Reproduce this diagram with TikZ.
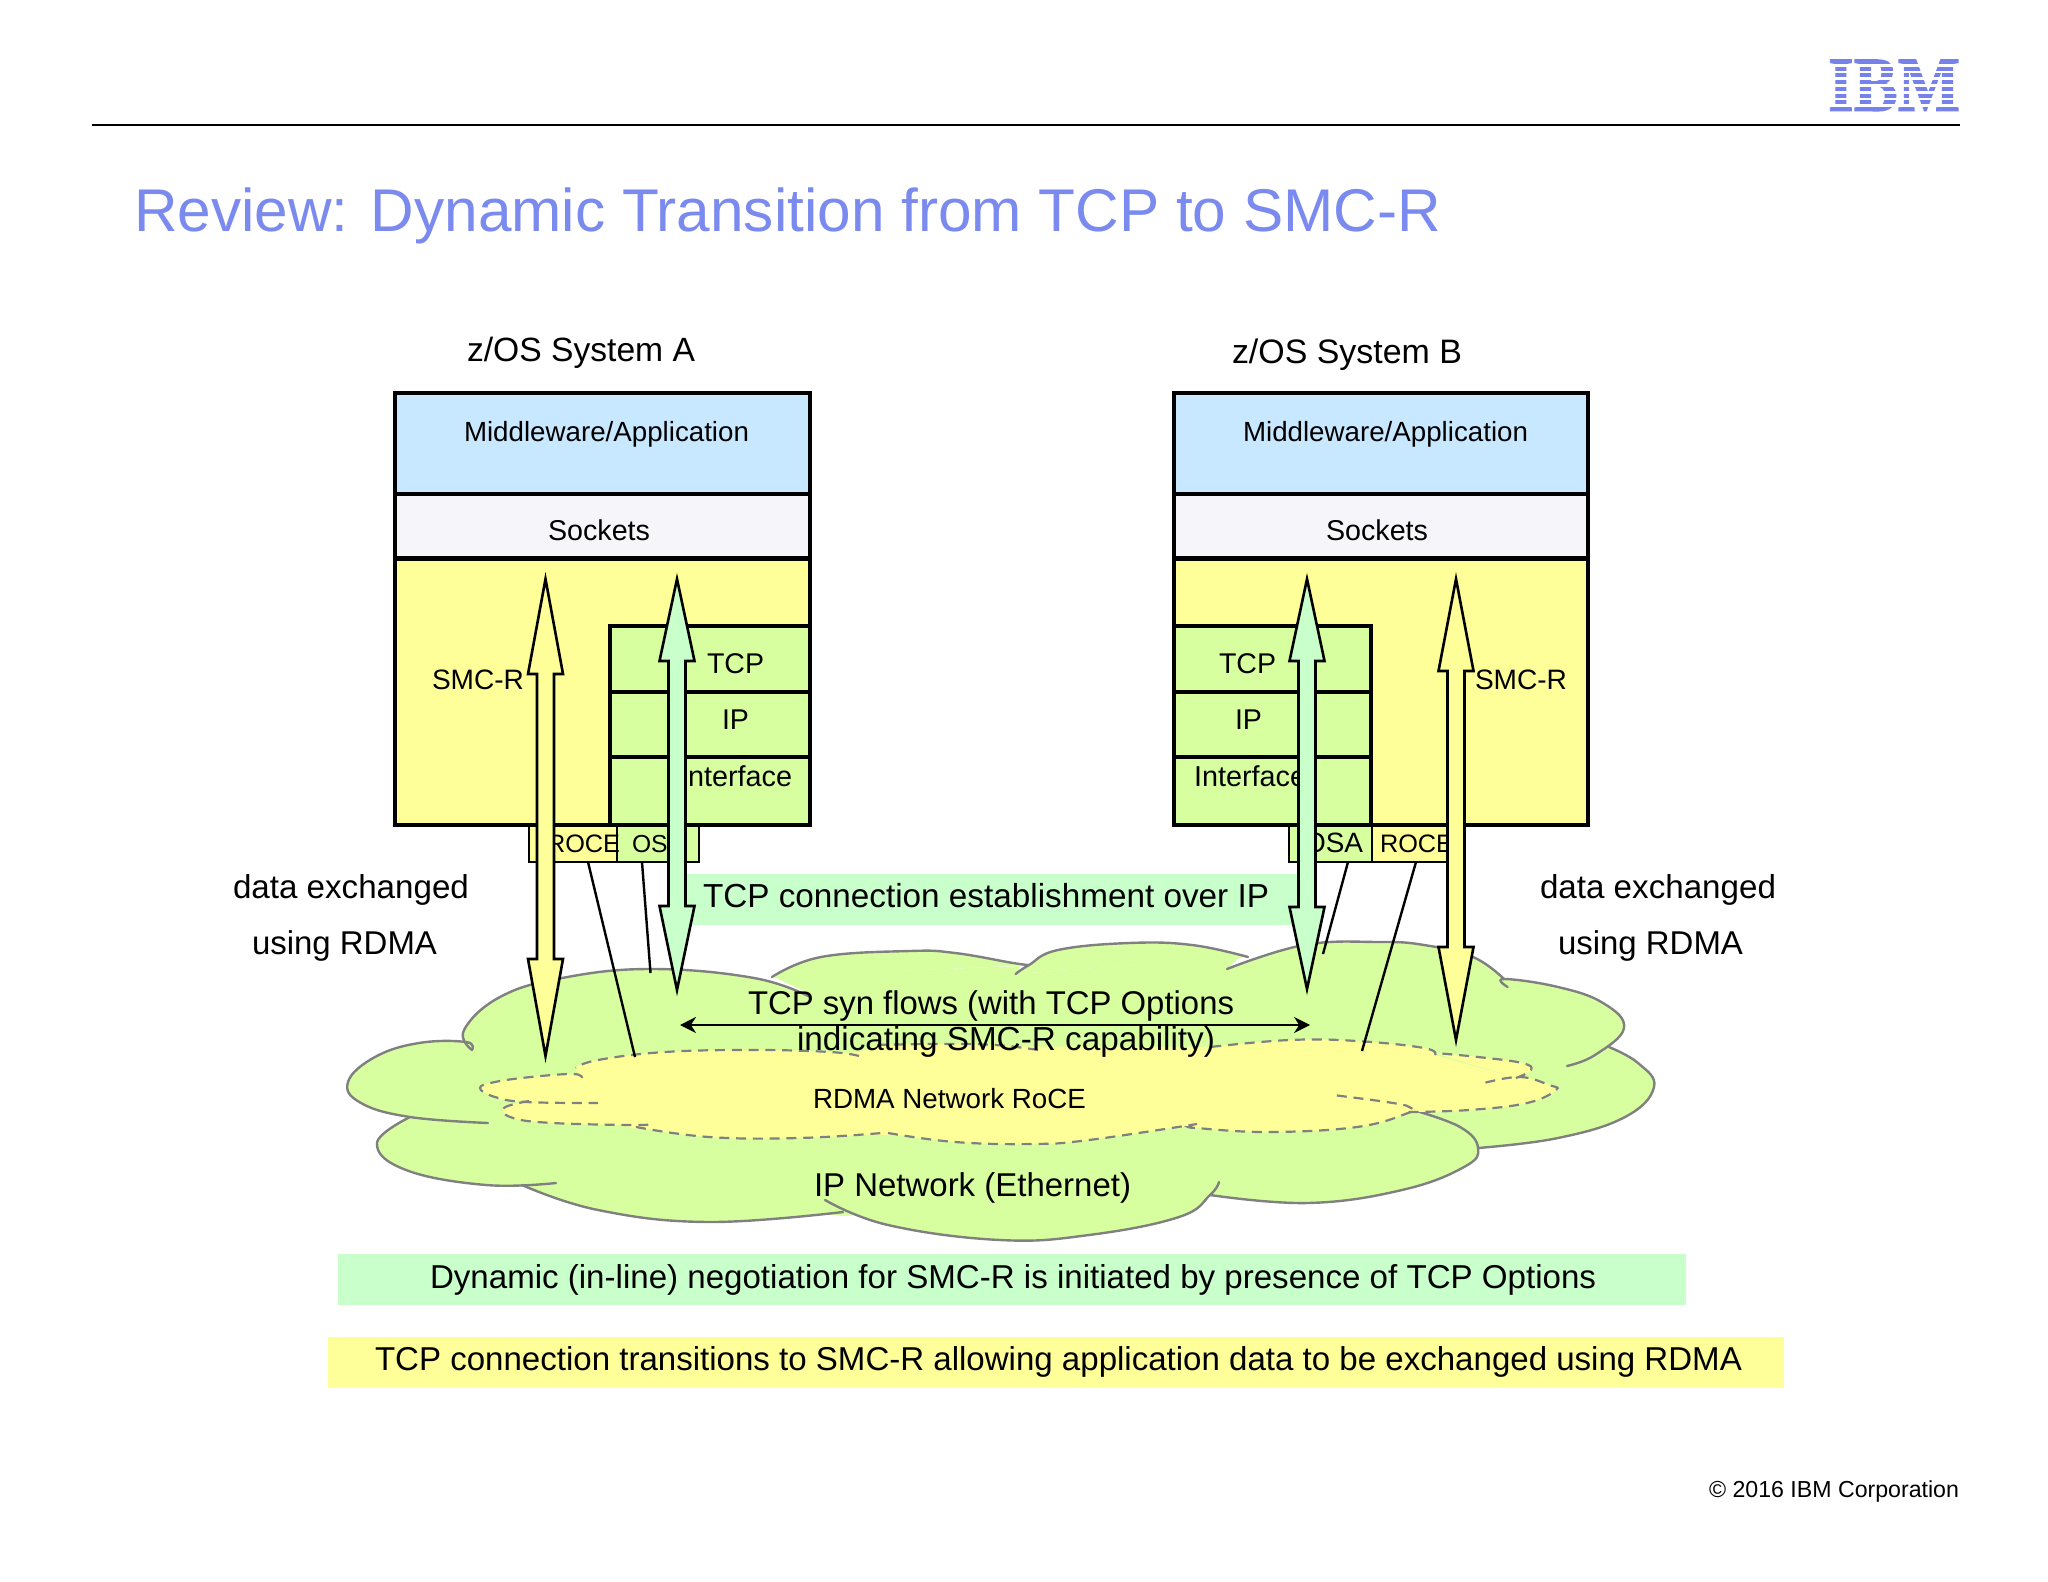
\documentclass[tikz,border=0pt]{standalone}
\usepackage{graphicx}
\usepackage{fontspec}
\setmainfont{Liberation Sans}
\newfontfamily\logofont{Liberation Serif}[BoldFeatures={FakeBold=1.5}]
\usetikzlibrary{arrows.meta,fit}
\definecolor{ctitle}{RGB}{122,138,238}
\definecolor{clogo}{RGB}{118,130,234}
\definecolor{cyel}{RGB}{255,255,153}
\definecolor{cgrn}{RGB}{215,255,160}
\definecolor{cmint}{RGB}{200,255,203}
\definecolor{cblue}{RGB}{200,232,255}
\definecolor{csock}{RGB}{246,246,250}
\definecolor{cgray}{RGB}{128,128,128}
\newdimen\pxu \pxu=.5pt
\tikzset{
  txt/.style={anchor=base west,inner sep=0pt,outer sep=0pt,text=black,font=\fontsize{14pt}{16pt}\selectfont},
  bigbox/.style={draw=black,line width=2.3pt,inner sep=0pt,outer sep=0pt},
  nicbox/.style={draw=black,line width=1.1pt,inner sep=0pt,outer sep=0pt},
  band/.style={inner sep=0pt,outer sep=0pt},
  thinline/.style={draw=black,line width=1.2pt},
  blockar/.style={draw=black,line width=1.3pt,miter limit=10},
  cloudline/.style={draw=cgray,line width=1.2pt,line cap=round},
  dashline/.style={draw=cgray,line width=1.1pt,dash pattern=on 5pt off 3.4pt},
  synarrow/.style={draw=black,line width=1pt,{Stealth[length=8pt,width=8pt]}-{Stealth[length=8pt,width=8pt]}},
}
\newcommand\tx[5]{\node[txt] (#1) at (#2,#3) {\resizebox{#4\pxu}{!}{#5}};}
\newcommand\bx[6]{\path (#2,#3) coordinate (#1-a) (#4,#5) coordinate (#1-b); \node[fit=(#1-a)(#1-b),#6] (#1) {};}
\newcommand\blockarrow[7]{\draw[blockar,fill=#7] (#2,#3) -- (#2+17.5,#4) -- (#2+8.5,#4) -- (#2+8.5,#5) -- (#2+17.5,#5) -- (#2,#6) -- (#2-17.5,#5) -- (#2-8.5,#5) -- (#2-8.5,#4) -- (#2-17.5,#4) -- cycle;}
\newcommand\lobefill[1]{\fill[cgrn] plot[smooth,tension=.7] coordinates {#1};}
\newcommand\lobedraw[1]{\draw[cloudline] plot[smooth,tension=.7] coordinates {#1};}
\newcommand\dashfill[1]{\fill[cyel] plot[smooth,tension=.7] coordinates {#1};}
\newcommand\dashdraw[1]{\draw[dashline] plot[smooth,tension=.7] coordinates {#1};}
\newcommand\greenlobes{%
\lobe{(472,1050)(466,1042)(419,1043)(375,1057)(348,1082)(361,1103)(410,1117)(488,1123)}
\lobe{(410,1117)(377,1143)(406,1170)(486,1185)(556,1183)}
\lobe{(522,1185)(598,1210)(709,1222)(843,1212)}
\lobe{(825,1200)(888,1225)(1000,1240)(1089,1235)(1179,1217)(1210,1195)(1219,1182)}
\lobe{(1210,1195)(1308,1203)(1402,1190)(1464,1167)(1478,1148)(1460,1127)(1413,1110)}
\lobe{(1478,1148)(1558,1138)(1625,1117)(1654,1087)(1638,1063)(1609,1047)}
\lobe{(1567,1066)(1595,1055)(1624,1028)(1603,1003)(1558,987)(1504,979)(1507.6,987)}
\lobe{(1504,979)(1473,957)(1424,945)(1379,942)(1304,945)(1227,969)}
\lobe{(1248,957)(1192,945)(1129.5,943)(1058,950)(1029,965)(1015.6,974)}
\lobe{(1029,965)(1013,963)(955,953)(910,951)(821,957)(772,977)}
\lobe{(810,997)(754,978)(651,969)(562,978)(500,997)(464,1030)(472,1050)}}
\newcommand\yellowlobes{%
\lobe{(582,1078)(573,1074)(531,1077)(495,1082)(480,1088)(495,1097)(526,1102)(598,1103)}
\lobe{(529,1101)(504,1108)(513,1118)(553,1123)(633.5,1125)(651,1124)}
\lobe{(636,1127)(709,1137)(799,1138)(882,1133)}
\lobe{(888,1133)(955,1142)(1033,1144)(1089,1140)(1197,1124)}
\lobe{(1192,1127)(1196,1128)(1268,1132)(1357,1127)(1408,1113)(1411,1108)(1393,1103)(1333,1095)}
\lobe{(1408.5,1112)(1469,1110)(1527,1103)(1556,1090)(1549,1085)(1520,1077)(1484,1083)}
\lobe{(1516,1078)(1531,1070)(1522,1063)(1478,1057)(1435,1053)}
\lobe{(1435,1055)(1424,1048)(1357,1041)(1290,1040)(1210,1047)}
\lobe{(859,1056)(830,1052)(754,1050)(665,1052)(598,1060)(575.5,1068)}
\lobe{(1038,1050)(995,1045)(935,1044)(875,1045)}}
\begin{document}
\begin{tikzpicture}[x=.5pt,y=-.5pt]
\useasboundingbox (0,0) rectangle (2048,1582);
\fill[white] (0,0) rectangle (2048,1582);
% header
\coordinate (ruleL) at (92,125); \coordinate (ruleR) at (1960,125);
\draw[black,line width=1.2pt] (ruleL) -- (ruleR);
\node[anchor=south west,inner sep=0pt,outer sep=0pt,text=clogo] (logo) at (1828,111) {\resizebox{132\pxu}{51\pxu}{\logofont\bfseries IBM}};
\foreach \k in {0,...,6} {\fill[white] (1820,64+\k*6.75) rectangle (1965,66.6+\k*6.75);}
\node[txt,text=ctitle] (title) at (134,231.5) {\resizebox{1307\pxu}{!}{Review: Dynamic Transition from TCP to SMC-R}};
% systems
\tx{sysA}{467}{362}{228}{z/OS System A}
\tx{sysB}{1232}{363.5}{230}{z/OS System B}
% NIC boxes
\bx{nicAy}{529}{824}{617}{862}{nicbox,fill=cyel}
\bx{nicAg}{617}{824}{699}{862}{nicbox,fill=cgrn}
\bx{nicBg}{1289}{824}{1372}{862}{nicbox,fill=cgrn}
\bx{nicBy}{1372}{824}{1458}{862}{nicbox,fill=cyel}
% system A
\bx{outA}{395}{393}{810}{825}{bigbox,fill=cyel}
\bx{mwA}{395}{393}{810}{494}{bigbox,fill=cblue}
\bx{skA}{395}{494}{810}{558.5}{bigbox,fill=csock}
\bx{tcpA}{610}{626}{810}{692}{bigbox,fill=cgrn}
\bx{ipA}{610}{692}{810}{757}{bigbox,fill=cgrn}
\bx{ifA}{610}{757}{810}{825}{bigbox,fill=cgrn}
% system B
\bx{outB}{1174}{393}{1588}{825}{bigbox,fill=cyel}
\bx{mwB}{1174}{393}{1588}{494}{bigbox,fill=cblue}
\bx{skB}{1174}{494}{1588}{558.5}{bigbox,fill=csock}
\bx{tcpB}{1174}{626}{1371}{692}{bigbox,fill=cgrn}
\bx{ipB}{1174}{692}{1371}{757}{bigbox,fill=cgrn}
\bx{ifB}{1174}{757}{1371}{825}{bigbox,fill=cgrn}
% box labels
\tx{mwAt}{464}{442}{285}{Middleware/Application}
\tx{mwBt}{1243}{442}{285}{Middleware/Application}
\tx{skAt}{548}{540.5}{102}{Sockets}
\tx{skBt}{1326}{540.5}{102}{Sockets}
\tx{smcA}{432}{689}{92}{SMC-R}
\tx{smcB}{1475}{689}{92}{SMC-R}
\tx{tcpAt}{707}{673.5}{57}{TCP}
\tx{tcpBt}{1219}{673.5}{57}{TCP}
\tx{ipAt}{722}{729.5}{27}{IP}
\tx{ipBt}{1235}{729.5}{27}{IP}
\tx{ifAt}{680}{786}{112}{Interface}
\tx{ifBt}{1194}{786}{112}{Interface}
\tx{rocA}{547}{852}{73}{ROCE}
\tx{osaA}{632}{852}{52}{OSA}
\tx{osaB}{1304}{852}{59}{OSA}
\tx{rocB}{1380}{852}{73}{ROCE}
% side labels
\tx{deA}{233}{898}{236}{data exchanged}
\tx{urA}{252}{954.5}{185}{using RDMA}
\tx{deB}{1540}{898}{236}{data exchanged}
\tx{urB}{1558}{954.5}{185}{using RDMA}
% mint band
\bx{estB}{687}{874}{1300}{925}{band,fill=cmint}
\tx{estT}{703}{907}{566}{TCP connection establishment over IP}
% cloud
\let\lobe\lobefill
\greenlobes
\fill[cgrn] (470,1046) -- (810,994) -- (772,976) -- (1020,966) -- (1018,974) -- (1240,957) -- (1228,968) -- (1504,977) -- (1609,1047) -- (1478,1148) -- (1210,1195) -- (843,1216) -- (535,1189) -- (410,1117) -- cycle;
\let\lobe\lobedraw
\greenlobes
% inner cloud
\let\lobe\dashfill
\yellowlobes
\fill[cyel] (575,1068) -- (859,1052) -- (875,1046) -- (1210,1047) -- (1435,1055) -- (1516,1078) -- (1484,1083) -- (1408,1112) -- (1192,1127) -- (881,1135) -- (636,1129) -- (529,1101) -- (582,1078) -- cycle;
\let\lobe\dashdraw
\yellowlobes
% thin connectors
\coordinate (lnA1s) at (588,862); \coordinate (lnA1e) at (635,1057);
\coordinate (lnA2s) at (642,862); \coordinate (lnA2e) at (650.5,973);
\coordinate (lnB1s) at (1348,862); \coordinate (lnB1e) at (1323,954);
\coordinate (lnB2s) at (1416,862); \coordinate (lnB2e) at (1362,1051);
\draw[thinline] (lnA1s) -- (lnA1e);
\draw[thinline] (lnA2s) -- (lnA2e);
\draw[thinline] (lnB1s) -- (lnB1e);
\draw[thinline] (lnB2s) -- (lnB2e);
% block arrows
\blockarrow{yA}{545.5}{579}{674}{959}{1056}{cyel}
\blockarrow{gA}{677}{579}{661}{906}{990}{cmint}
\blockarrow{gB}{1307}{579}{661}{907}{989}{cmint}
\blockarrow{yB}{1456}{579}{671}{947}{1040}{cyel}
% cloud labels
\tx{syn1}{748}{1014}{486}{TCP syn flows (with TCP Options}
\tx{syn2}{797}{1050}{418}{indicating SMC-R capability)}
\coordinate (synL) at (680,1025); \coordinate (synR) at (1310,1025);
\draw[synarrow] (synL) -- (synR);
\tx{rdma}{813}{1108}{273}{RDMA Network RoCE}
\tx{ipnet}{814}{1196}{317}{IP Network (Ethernet)}
% bottom bands
\bx{bandG}{338}{1254}{1686}{1305}{band,fill=cmint}
\tx{bandGt}{430}{1288}{1166}{Dynamic (in-line) negotiation for SMC-R is initiated by presence of TCP Options}
\bx{bandY}{328}{1337}{1784}{1388}{band,fill=cyel}
\tx{bandYt}{375}{1370}{1367}{TCP connection transitions to SMC-R allowing application data to be exchanged using RDMA}
\tx{copy}{1709}{1497}{250}{© 2016 IBM Corporation}
\end{tikzpicture}
\end{document}
